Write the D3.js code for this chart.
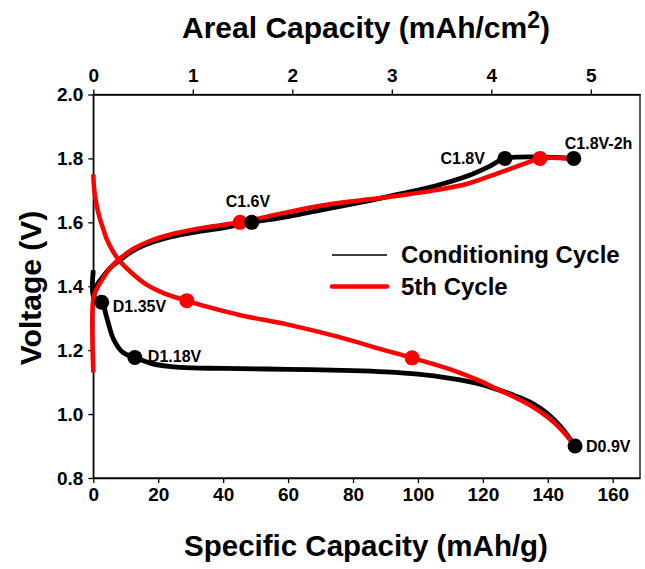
<!DOCTYPE html>
<html>
<head>
<meta charset="utf-8">
<script src="https://cdn.jsdelivr.net/npm/d3@7"></script>
<style>
  html, body { margin: 0; padding: 0; background: #fff; }
  svg { display: block; font-family: "Liberation Sans", Arial, sans-serif; font-weight: bold; }
</style>
</head>
<body>
<svg id="chart" width="645" height="569"></svg>
<script>
// ---------- data ----------
const xTicks = [0, 20, 40, 60, 80, 100, 120, 140, 160];
const topTicks = [0, 1, 2, 3, 4, 5];
const yTicks = [0.8, 1.0, 1.2, 1.4, 1.6, 1.8, 2.0];
const arealFactor = 30.65; // mAh/g per mAh/cm2

// Conditioning cycle (black)
const condCharge = [[0,1.36],[0.5,1.385],[1.5,1.41],[3,1.43],[5,1.455],[8,1.48],[12,1.51],[16,1.53],[22,1.55],[30,1.567],[40,1.583],[49,1.6],[60,1.618],[70,1.638],[85,1.668],[95,1.69],[105,1.713],[115,1.744],[122,1.775],[126.8,1.8],[148,1.8]];
const condDischarge = [[0,1.45],[0,1.37],[1.2,1.356],[2.6,1.35],[4.2,1.3],[6.2,1.235],[9.2,1.192],[12.8,1.177],[18,1.158],[26.7,1.146],[40,1.143],[60,1.14],[80,1.136],[90,1.132],[100,1.125],[110,1.112],[118,1.097],[123,1.082],[130,1.057],[135,1.035],[139.7,1.003],[144,0.96],[148.4,0.9]];

// 5th cycle (red)
const c5Charge = [[0,1.13],[0,1.36],[1,1.39],[3,1.425],[5,1.455],[8,1.485],[12,1.515],[17,1.54],[25,1.565],[35,1.585],[45.2,1.6],[58,1.628],[70,1.652],[85,1.672],[95,1.685],[105,1.7],[115,1.72],[125,1.755],[133.5,1.786],[137.6,1.8],[146,1.8]];
const c5Discharge = [[0,1.75],[0.3,1.70],[1,1.655],[2,1.612],[3.1,1.578],[4.1,1.548],[6,1.51],[8.2,1.478],[12,1.44],[16.4,1.405],[22,1.377],[28.8,1.355],[35,1.336],[45,1.31],[60,1.28],[75,1.243],[88,1.205],[98.2,1.176],[110,1.14],[120,1.1],[123,1.085],[130,1.052],[135,1.025],[140,0.99],[144,0.953],[148.4,0.9]];

// marker points
const condPoints = [
  {name:"C1.6V", x:48.8, v:1.6},
  {name:"C1.8V", x:126.8, v:1.8},
  {name:"C1.8V-2h", x:148, v:1.8},
  {name:"D1.35V", x:2.6, v:1.35},
  {name:"D1.18V", x:12.8, v:1.177},
  {name:"D0.9V", x:148.4, v:0.9}
];
const c5Points = [
  {x:45.2, v:1.6},
  {x:137.6, v:1.8},
  {x:28.8, v:1.355},
  {x:98.2, v:1.176}
];
const pointLabels = ["C1.6V","C1.8V","C1.8V-2h","D1.35V","D1.18V","D0.9V"];
const seriesNames = ["Conditioning Cycle", "5th Cycle"];

// ---------- layout ----------
const svg = d3.select("#chart");
const L = 93.3, R = 640, T = 94.5, B = 478;
const x = d3.scaleLinear().domain([0, 168.4]).range([L, R]);
const xTop = d3.scaleLinear().domain([0, 168.4 / arealFactor]).range([L, R]);
const y = d3.scaleLinear().domain([0.8, 2.0]).range([B, T]);

// frame
svg.append("rect").attr("x", L).attr("y", T).attr("width", R - L).attr("height", B - T)
  .attr("fill", "none").attr("stroke", "#000").attr("stroke-width", 1.3);

function styleAxis(g) {
  g.select(".domain").attr("stroke", "#000").attr("stroke-width", 1.3);
  g.selectAll(".tick line").attr("stroke", "#000").attr("stroke-width", 1.3);
  g.selectAll(".tick text").attr("fill", "#000").style("font-size", "19px").style("font-weight", "bold")
   .style("font-family", '"Liberation Sans", Arial, sans-serif');
}

svg.append("g").attr("transform", `translate(0,${B})`)
  .call(d3.axisBottom(x).tickValues(xTicks).tickSize(5).tickSizeOuter(0).tickPadding(5).tickFormat(d3.format("d")))
  .call(styleAxis);
svg.append("g").attr("transform", `translate(0,${T})`)
  .call(d3.axisTop(xTop).tickValues(topTicks).tickSize(5).tickSizeOuter(0).tickPadding(8).tickFormat(d3.format("d")))
  .call(styleAxis);
svg.append("g").attr("transform", `translate(${L},0)`)
  .call(d3.axisLeft(y).tickValues(yTicks).tickSize(5).tickSizeOuter(0).tickPadding(5).tickFormat(d3.format(".1f")))
  .call(styleAxis);

// titles
const topTitle = svg.append("text").attr("x", 366).attr("y", 38).attr("text-anchor", "middle")
  .style("font-size", "30px");
topTitle.append("tspan").text("Areal Capacity (mAh/cm");
topTitle.append("tspan").attr("dy", -10).style("font-size", "23px").text("2");
topTitle.append("tspan").attr("dy", 10).text(")");

svg.append("text").attr("x", 366).attr("y", 556).attr("text-anchor", "middle")
  .style("font-size", "29.5px").text("Specific Capacity (mAh/g)");

svg.append("text").attr("transform", "translate(41,288) rotate(-90)").attr("text-anchor", "middle")
  .style("font-size", "30px").text("Voltage (V)");

// lines
const line = d3.line().x(d => x(d[0])).y(d => y(d[1])).curve(d3.curveCatmullRom.alpha(0.5));
const plot = svg.append("g");
[condCharge, condDischarge].forEach(s => plot.append("path").attr("d", line(s))
  .attr("fill", "none").attr("stroke", "#000").attr("stroke-width", 4.8)
  .attr("stroke-linejoin", "round").attr("stroke-linecap", "butt"));
[c5Charge, c5Discharge].forEach(s => plot.append("path").attr("d", line(s))
  .attr("fill", "none").attr("stroke", "#ff0000").attr("stroke-width", 4.5)
  .attr("stroke-linejoin", "round").attr("stroke-linecap", "butt"));

// markers
plot.selectAll(".p5").data(c5Points).join("circle")
  .attr("cx", d => x(d.x)).attr("cy", d => y(d.v)).attr("r", 7.5).attr("fill", "#ff0000");
plot.selectAll(".pc").data(condPoints).join("circle")
  .attr("cx", d => x(d.x)).attr("cy", d => y(d.v)).attr("r", 7.5).attr("fill", "#000");

// point labels (offsets relative to each marker)
const labelOffsets = {
  "C1.6V": {dx: -26, dy: -15, anchor: "start"},
  "C1.8V": {dx: -20, dy: 6, anchor: "end"},
  "C1.8V-2h": {dx: -9, dy: -9, anchor: "start"},
  "D1.35V": {dx: 11, dy: 10, anchor: "start"},
  "D1.18V": {dx: 13, dy: 4, anchor: "start"},
  "D0.9V": {dx: 11, dy: 6, anchor: "start"}
};
plot.selectAll(".lbl").data(condPoints.filter(p => pointLabels.includes(p.name))).join("text")
  .attr("x", d => x(d.x) + labelOffsets[d.name].dx)
  .attr("y", d => y(d.v) + labelOffsets[d.name].dy)
  .attr("text-anchor", d => labelOffsets[d.name].anchor)
  .style("font-size", "16px").text(d => d.name);

// legend
const lg = svg.append("g");
lg.append("line").attr("x1", 332).attr("x2", 387).attr("y1", 255).attr("y2", 255)
  .attr("stroke", "#000").attr("stroke-width", 1.5);
lg.append("line").attr("x1", 332).attr("x2", 387).attr("y1", 286.5).attr("y2", 286.5)
  .attr("stroke", "#ff0000").attr("stroke-width", 4.5).attr("stroke-linecap", "round");
lg.append("text").attr("x", 401).attr("y", 263).style("font-size", "24px").text(seriesNames[0]);
lg.append("text").attr("x", 401).attr("y", 295).style("font-size", "24px").text(seriesNames[1]);
</script>
</body>
</html>
